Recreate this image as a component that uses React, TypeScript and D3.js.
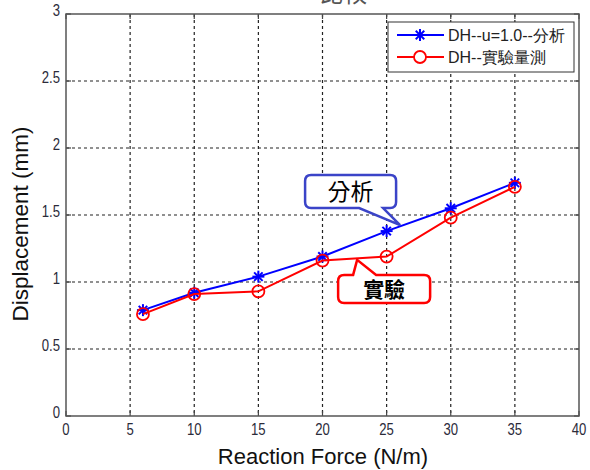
import React from "react";
import * as d3 from "d3";

const forces = [6, 10, 15, 20, 25, 30, 35];
const analysis = [0.79, 0.92, 1.04, 1.19, 1.38, 1.55, 1.74];
const experiment = [0.76, 0.91, 0.93, 1.16, 1.19, 1.48, 1.71];
const xTicks = [0, 5, 10, 15, 20, 25, 30, 35, 40];
const yTicks = [0, 0.5, 1, 1.5, 2, 2.5, 3];
const seriesNames = ["DH--u=1.0--分析", "DH--實驗量測"];
const calloutLabels = ["分析", "實驗"];

const W = 590, H = 470;
const L = 66, R = 579, T = 14, B = 416;

export default function App() {
  const x = d3.scaleLinear().domain([0, 40]).range([L, R]);
  const y = d3.scaleLinear().domain([0, 3]).range([B, T]);
  const blueD = d3.line<number>().x((_, i) => x(forces[i])).y((v) => y(v))(analysis) || "";
  const redD = d3.line<number>().x((_, i) => x(forces[i])).y((v) => y(v))(experiment) || "";
  const font = "'Liberation Sans', Arial, sans-serif";
  const cjk = "'Noto Sans CJK TC', 'Noto Sans CJK SC', sans-serif";

  const star = (cx: number, cy: number, k: number) => {
    const r = 6;
    const segs = [] as any[];
    for (let a = 0; a < 4; a++) {
      const ang = (a * Math.PI) / 4;
      segs.push(
        <line key={a} x1={cx - r * Math.cos(ang)} y1={cy - r * Math.sin(ang)} x2={cx + r * Math.cos(ang)} y2={cy + r * Math.sin(ang)} stroke="#0000ff" strokeWidth={2} />
      );
    }
    return <g key={k}>{segs}</g>;
  };

  const t1x = x(26.05), t1y = y(1.425);
  const b1 = { l: t1x - 95, t: t1y - 50, w: 91, h: 33 };
  const c1 = `M${b1.l + 6},${b1.t} H${b1.l + b1.w - 6} Q${b1.l + b1.w},${b1.t} ${b1.l + b1.w},${b1.t + 6} V${b1.t + b1.h - 6} Q${b1.l + b1.w},${b1.t + b1.h} ${b1.l + b1.w - 6},${b1.t + b1.h} H${b1.l + 78} L${t1x},${t1y} L${b1.l + 54},${b1.t + b1.h} H${b1.l + 6} Q${b1.l},${b1.t + b1.h} ${b1.l},${b1.t + b1.h - 6} V${b1.t + 6} Q${b1.l},${b1.t} ${b1.l + 6},${b1.t} Z`;

  const t2x = x(22.7), t2y = y(1.165);
  const b2 = { l: t2x - 19, t: t2y + 15, w: 92, h: 28 };
  const c2 = `M${b2.l + 6},${b2.t} H${b2.l + 15} L${t2x},${t2y} L${b2.l + 38},${b2.t} H${b2.l + b2.w - 6} Q${b2.l + b2.w},${b2.t} ${b2.l + b2.w},${b2.t + 6} V${b2.t + b2.h - 6} Q${b2.l + b2.w},${b2.t + b2.h} ${b2.l + b2.w - 6},${b2.t + b2.h} H${b2.l + 6} Q${b2.l},${b2.t + b2.h} ${b2.l},${b2.t + b2.h - 6} V${b2.t + 6} Q${b2.l},${b2.t} ${b2.l + 6},${b2.t} Z`;

  const legX = 388, legY = 22, legW = 186, legH = 50;

  return (
    <svg width={W} height={H} style={{ position: "absolute", left: 0, top: 0, background: "#fff" }}>
      <rect x={0} y={0} width={W} height={H} fill="#fff" />
      <text x={343} y={2} textAnchor="middle" fontFamily={cjk} fontSize={24} fill="#555">比較</text>
      {xTicks.slice(1, -1).map((t) => (
        <line key={"gx" + t} x1={x(t)} x2={x(t)} y1={T} y2={B} stroke="#222" strokeWidth={1.2} strokeDasharray="3,3" />
      ))}
      {yTicks.slice(1, -1).map((t) => (
        <line key={"gy" + t} x1={L} x2={R} y1={y(t)} y2={y(t)} stroke="#222" strokeWidth={1.2} strokeDasharray="3,3" />
      ))}
      {xTicks.map((t) => (
        <g key={"tx" + t}>
          <line x1={x(t)} x2={x(t)} y1={B} y2={B - 5} stroke="#444" strokeWidth={1.2} />
          <line x1={x(t)} x2={x(t)} y1={T} y2={T + 5} stroke="#444" strokeWidth={1.2} />
          <text x={x(t)} y={B + 19} textAnchor="middle" fontFamily={font} fontSize={16} fill="#2b2b3a" transform={`translate(${x(t)},0) scale(0.82,1) translate(${-x(t)},0)`}>{t}</text>
        </g>
      ))}
      {yTicks.map((t) => (
        <g key={"ty" + t}>
          <line x1={L} x2={L + 5} y1={y(t)} y2={y(t)} stroke="#444" strokeWidth={1.2} />
          <line x1={R} x2={R - 5} y1={y(t)} y2={y(t)} stroke="#444" strokeWidth={1.2} />
          <text x={L - 6} y={y(t) + 2} textAnchor="end" fontFamily={font} fontSize={16} fill="#2b2b3a" transform={`translate(${L - 6},0) scale(0.82,1) translate(${-(L - 6)},0)`}>{t}</text>
        </g>
      ))}
      <rect x={L} y={T} width={R - L} height={B - T} fill="none" stroke="#555" strokeWidth={1.5} />
      <path d={blueD} fill="none" stroke="#0000ff" strokeWidth={2} />
      {analysis.map((v, i) => star(x(forces[i]), y(v), i))}
      <path d={redD} fill="none" stroke="#ff0000" strokeWidth={2} />
      {experiment.map((v, i) => (
        <circle key={"c" + i} cx={x(forces[i])} cy={y(v)} r={6} fill="none" stroke="#ff0000" strokeWidth={1.8} />
      ))}
      <path d={c1} fill="#fff" stroke="#3b44c8" strokeWidth={2.5} />
      <text x={b1.l + b1.w / 2} y={b1.t + 25} textAnchor="middle" fontFamily={cjk} fontSize={23} fill="#000">{calloutLabels[0]}</text>
      <path d={c2} fill="#fff" stroke="#ff0000" strokeWidth={2.5} />
      <text x={b2.l + b2.w / 2} y={b2.t + 22} textAnchor="middle" fontFamily={cjk} fontSize={21} fontWeight="bold" fill="#000">{calloutLabels[1]}</text>
      <rect x={legX} y={legY} width={legW} height={legH} fill="#fff" stroke="#333" strokeWidth={1} />
      <line x1={legX + 9} x2={legX + 56} y1={legY + 13} y2={legY + 13} stroke="#0000ff" strokeWidth={2} />
      {star(legX + 32, legY + 13, 99)}
      <text x={legX + 60} y={legY + 19} fontFamily={font} fontSize={16} fill="#222">{seriesNames[0]}</text>
      <line x1={legX + 9} x2={legX + 56} y1={legY + 35} y2={legY + 35} stroke="#ff0000" strokeWidth={2} />
      <circle cx={legX + 32} cy={legY + 35} r={6} fill="#fff" stroke="#ff0000" strokeWidth={1.8} />
      <text x={legX + 60} y={legY + 41} fontFamily={font} fontSize={16} fill="#222">{seriesNames[1]}</text>
      <text x={323} y={464} textAnchor="middle" fontFamily={font} fontSize={22} fill="#111">Reaction Force (N/m)</text>
      <text transform={`translate(28,224) rotate(-90)`} textAnchor="middle" fontFamily={font} fontSize={22.5} fill="#111">Displacement (mm)</text>
    </svg>
  );
}
